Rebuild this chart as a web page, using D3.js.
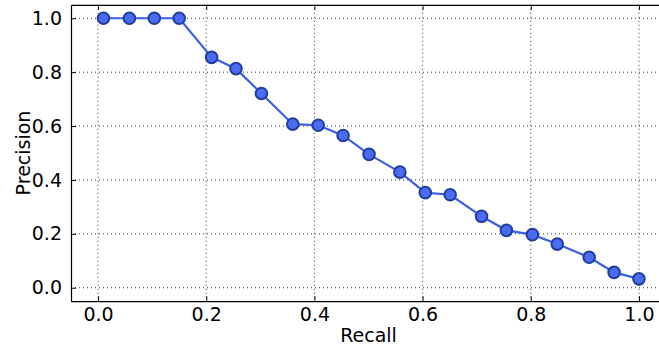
<!DOCTYPE html>
<html><head><meta charset="utf-8">
<script src="https://cdn.jsdelivr.net/npm/d3@7"></script>
<style>body{margin:0;background:#fff}svg{display:block}text{font-family:"DejaVu Sans",sans-serif}</style>
</head><body>
<svg id="c" width="659" height="350"></svg>
<script>
const recall = [0.010,0.058,0.104,0.150,0.210,0.255,0.302,0.360,0.407,0.453,0.501,0.558,0.605,0.651,0.709,0.755,0.803,0.849,0.908,0.954,1.000];
const precision = [1.0,1.0,1.0,1.0,0.855,0.813,0.721,0.607,0.603,0.565,0.495,0.429,0.353,0.345,0.265,0.213,0.197,0.162,0.113,0.057,0.033];
const xTicks = [0.0,0.2,0.4,0.6,0.8,1.0];
const yTicks = [0.0,0.2,0.4,0.6,0.8,1.0];
const xLabel = "Recall", yLabel = "Precision";

const svg = d3.select("#c");
const L=71, R=666, T=4.8, B=301.2;
const x = d3.scaleLinear().domain([-0.05,1.05]).range([L,R]);
const y = d3.scaleLinear().domain([-0.05,1.05]).range([B,T]);
const fmt = d3.format(".1f");

// grid
const g = svg.append("g");
g.selectAll(".gx").data(xTicks).join("line")
  .attr("x1",d=>x(d)).attr("x2",d=>x(d)).attr("y1",T).attr("y2",B)
  .attr("stroke","#000").attr("stroke-width",0.8).attr("stroke-dasharray","1,3");
g.selectAll(".gy").data(yTicks).join("line")
  .attr("y1",d=>y(d)).attr("y2",d=>y(d)).attr("x1",L).attr("x2",R)
  .attr("stroke","#000").attr("stroke-width",0.8).attr("stroke-dasharray","1,3");

// axes (inward ticks)
const ax = svg.append("g").attr("transform",`translate(0,${B})`)
  .call(d3.axisBottom(x).tickValues(xTicks).tickFormat(fmt).tickSizeInner(-5).tickSizeOuter(0).tickPadding(6));
const axT = svg.append("g").attr("transform",`translate(0,${T})`)
  .call(d3.axisTop(x).tickValues(xTicks).tickFormat("").tickSizeInner(-5).tickSizeOuter(0));
const ay = svg.append("g").attr("transform",`translate(${L},0)`)
  .call(d3.axisLeft(y).tickValues(yTicks).tickFormat(fmt).tickSizeInner(-5).tickSizeOuter(0).tickPadding(9));
[ax,axT,ay].forEach(a=>{
  a.select(".domain").attr("stroke","#000").attr("stroke-width",1.2);
  a.selectAll(".tick line").attr("stroke","#000").attr("stroke-width",1);
  a.selectAll("text").attr("font-size",19).attr("fill","#000").attr("font-family","DejaVu Sans");
});
ax.selectAll("text").attr("y",null).attr("dy",null).attr("transform","translate(0,20)");

// line
const line = d3.line().x((d,i)=>x(recall[i])).y(d=>y(d));
svg.append("path").datum(precision).attr("d",line)
  .attr("fill","none").attr("stroke","#3a5ee8").attr("stroke-width",2.2);
svg.selectAll(".pt").data(precision).join("circle")
  .attr("cx",(d,i)=>x(recall[i])).attr("cy",d=>y(d)).attr("r",5.8)
  .attr("fill","#4a6cf2").attr("stroke","#233d9c").attr("stroke-width",2);

svg.append("text").attr("x",x(0.5)).attr("y",342).attr("text-anchor","middle")
  .attr("font-size",19).text(xLabel);
svg.append("text").attr("transform",`translate(29.5,${y(0.5)}) rotate(-90)`).attr("text-anchor","middle")
  .attr("font-size",19).text(yLabel);
</script>
</body></html>
